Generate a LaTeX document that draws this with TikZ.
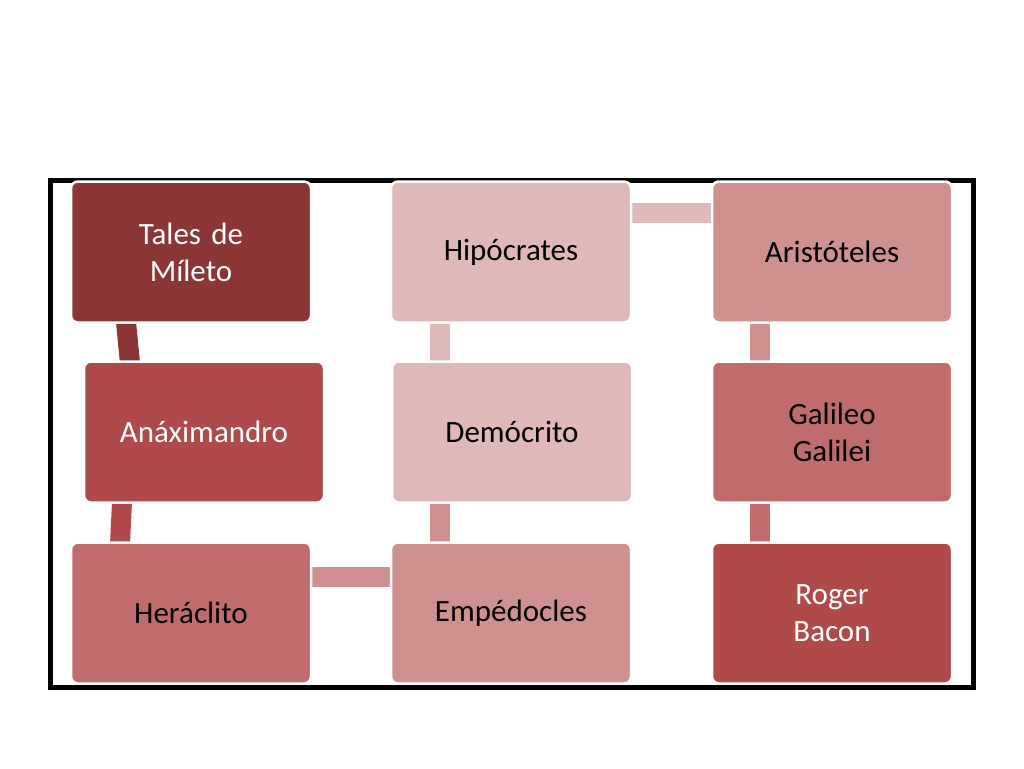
\documentclass[tikz,border=0pt]{standalone}
\usepackage{fontspec}
\setmainfont{Carlito}
\usetikzlibrary{calc}
\definecolor{c1}{HTML}{8C3535}
\definecolor{c2}{HTML}{B04A4A}
\definecolor{c3}{HTML}{C16C6C}
\definecolor{c4}{HTML}{CF9090}
\definecolor{c5}{HTML}{DFB8B8}
\tikzset{
 box/.style={draw=white,line width=2.5pt,rounded corners=7pt,minimum width=240pt,minimum height=141pt,align=center,font=\fontsize{31}{37}\selectfont,text width=220pt,inner sep=0pt},
 bar/.style={line width=20pt}
}
\begin{document}
\begin{tikzpicture}[x=1pt,y=-1pt]
\useasboundingbox (0,0) rectangle (1024,768);
\fill[white] (0,0) rectangle (1024,768);
\draw[line width=5pt] (50,180) rectangle (973,687);
\coordinate (p1t) at (126,322); \coordinate (p1b) at (130,363);
\coordinate (p2t) at (122,502); \coordinate (p2b) at (120,544);
\draw[bar,c1] (p1t) -- (p1b);
\draw[bar,c2] (p2t) -- (p2b);
\draw[bar,c4] (310,577) -- (390,577);
\draw[bar,c4] (440,502) -- (440,544);
\draw[bar,c5] (440,322) -- (440,363);
\draw[bar,c5] (632,213) -- (712,213);
\draw[bar,c4] (760,322) -- (760,363);
\draw[bar,c3] (760,502) -- (760,544);
\node[box,fill=c1,text=white] (tal) at (191,252) {Tales de\\Míleto};
\node[box,fill=c2,text=white] (ana) at (204,432) {Anáximandro};
\node[box,fill=c3] (her) at (191,613) {Heráclito};
\node[box,fill=c5] (hip) at (511,252) {Hipócrates};
\node[box,fill=c5] (dem) at (512,432) {Demócrito};
\node[box,fill=c4] (emp) at (511,613) {Empédocles};
\node[box,fill=c4] (ari) at (832,252) {Aristóteles};
\node[box,fill=c3] (gal) at (832,432) {Galileo\\Galilei};
\node[box,fill=c2,text=white] (rog) at (832,613) {Roger\\Bacon};
\end{tikzpicture}
\end{document}
